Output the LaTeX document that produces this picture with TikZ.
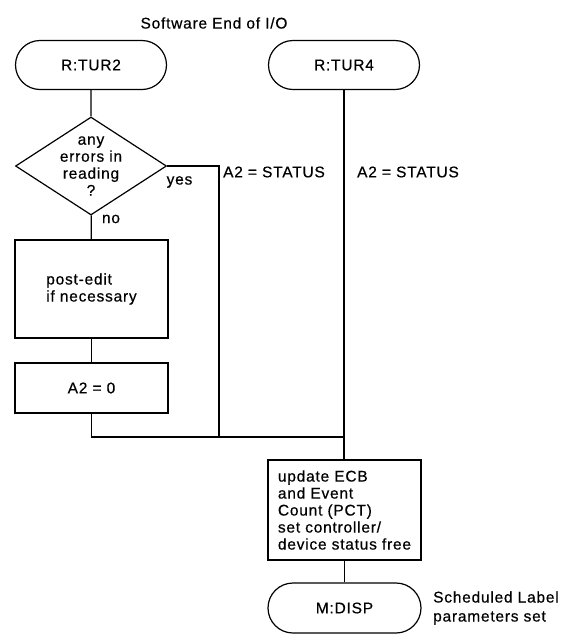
\documentclass[tikz,border=0pt]{standalone}
\usepackage{fontspec}
\setmainfont{Liberation Sans}[LetterSpace=5,FakeBold=0.5]
\usetikzlibrary{shapes.geometric,shapes.misc}
\begin{document}
\begin{tikzpicture}[x=1pt,y=-1pt,
  every node/.style={font=\fontsize{15.5}{17}\selectfont},
  flow/.style={line width=1.2pt},
  terminal/.style={draw,line width=1.2pt,rounded rectangle,minimum width=151pt,minimum height=49pt,inner sep=0pt},
  procbox/.style={draw,line width=1.2pt,rectangle,minimum width=153pt,inner sep=0pt,align=left},
  decision/.style={draw,line width=1.2pt,diamond,minimum width=151pt,minimum height=98pt,inner sep=0pt},
  note/.style={inner sep=0pt,align=left}]
\useasboundingbox (0,0) rectangle (572,641);

% headline
\node[note] (title) at (214,23) {Software End of I/O};

% left branch
\node[terminal] (tur2) at (91,65) {R:TUR2};
\node[decision,label={[align=center,inner sep=0pt]center:any\\errors in\\reading\\?}] (dec) at (91,166) {};
\node[procbox,minimum height=98pt] (post) at (91.5,289) {post-edit\\if necessary};
\node[procbox,minimum height=50pt] (a20) at (91.5,388) {A2 = 0};

% right branch
\node[terminal] (tur4) at (344,65) {R:TUR4};
\node[procbox,minimum height=100pt] (upd) at (344.5,510)
  {update ECB\\and Event\\Count (PCT)\\set controller/\\device status free};
\node[terminal,minimum width=153pt,minimum height=50pt] (disp) at (344.5,608) {M:DISP};

% branch labels
\node[note] (yes) at (179.5,182) {yes};
\node[note] (no) at (111,219) {no};
\node[note] (st1) at (274,172) {A2 = STATUS};
\node[note] (st2) at (408,172) {A2 = STATUS};
\node[note,font=\fontsize{15.5}{19}\selectfont,anchor=west] (sched) at (433,608) {Scheduled Label\\parameters set};

% junction points
\coordinate (jl) at (219,166);
\coordinate (jb) at (219,437);
\coordinate (jm) at (344,437);

% connectors
\draw[flow] (tur2) -- (dec);
\draw[flow] (dec) -- (post);
\draw[flow] (post) -- (a20);
\draw[flow] (a20.south) |- (jm);
\draw[flow] (dec.east) -- (jl) -- (jb);
\draw[flow] (tur4.south) -- (tur4.south |- upd.north);
\draw[flow] (upd) -- (disp);
\end{tikzpicture}
\end{document}
